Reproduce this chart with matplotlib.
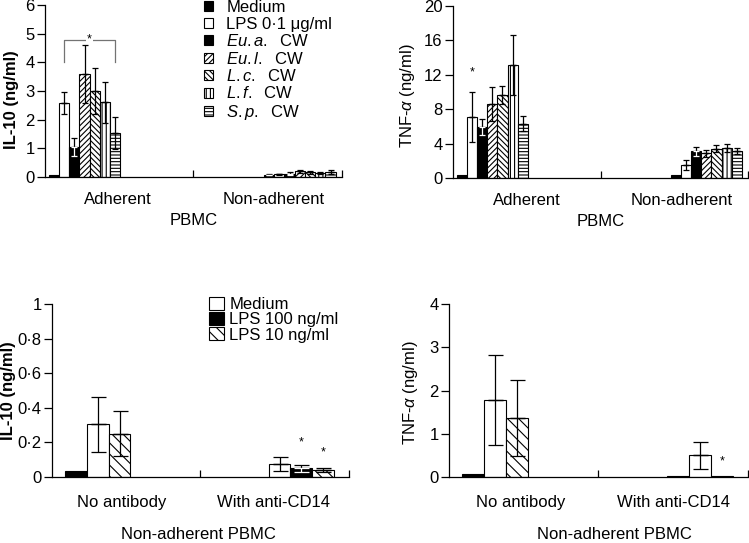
import matplotlib
matplotlib.use('Agg')
import matplotlib.pyplot as plt
import matplotlib.transforms as mtransforms
from matplotlib.patches import Patch
import numpy as np

plt.rcParams['font.family'] = ['Liberation Sans', 'DejaVu Sans']
plt.rcParams['mathtext.fontset'] = 'custom'
plt.rcParams['mathtext.rm'] = 'Liberation Sans'
plt.rcParams['mathtext.it'] = 'Liberation Sans:italic'
plt.rcParams['hatch.linewidth'] = 0.8

FS = 12

# Datos - paineis de cima (PBMC aderentes / nao aderentes)
grupos_pbmc = ['Adherent', 'Non-adherent']
estimulos = ['Medium', 'LPS 0·1 μg/ml', r'$\it{Eu.a.}$  CW', r'$\it{Eu.l.}$  CW',
             r'$\it{L.c.}$  CW', r'$\it{L.f.}$  CW', r'$\it{S.p.}$  CW']
cores_sup = ['black', 'white', 'black', 'white', 'white', 'white', 'white']
hachuras_sup = ['', '', '', '//////', '\\' * 6, '||||', '-----']

il10_ader = [0.08, 2.58, 1.05, 3.59, 3.0, 2.6, 1.53]
il10_ader_err = [0.0, 0.37, 0.32, 1.0, 0.8, 0.7, 0.57]
il10_nader = [0.08, 0.09, 0.12, 0.2, 0.17, 0.15, 0.17]
il10_nader_err = [0.01, 0.03, 0.04, 0.05, 0.05, 0.04, 0.06]

tnf_ader = [0.3, 7.1, 5.9, 8.6, 9.6, 13.1, 6.3]
tnf_ader_err = [0.0, 2.9, 0.95, 2.0, 1.05, 3.5, 0.85]
tnf_nader = [0.4, 1.5, 3.1, 2.85, 3.4, 3.5, 3.15]
tnf_nader_err = [0.0, 0.55, 0.55, 0.4, 0.4, 0.5, 0.35]

# Datos - paineis de baixo (PBMC nao aderentes, anti-CD14)
grupos_cd14 = ['No antibody', 'With anti-CD14']
legenda_cd14 = ['Medium', 'LPS 100 ng/ml', 'LPS 10 ng/ml']

il10_cd14 = [[0.035, 0.305, 0.25], [0.075, 0.05, 0.04]]
il10_cd14_err = [[0.0, 0.16, 0.13], [0.04, 0.022, 0.01]]
il10_cd14_cores = [['black', 'white', 'white'], ['white', 'black', 'white']]
il10_cd14_hach = [['', '', '\\\\\\'], ['', '', '\\\\\\']]

tnf_cd14 = [[0.08, 1.78, 1.37], [0.03, 0.5, 0.03]]
tnf_cd14_err = [[0.0, 1.03, 0.88], [0.0, 0.32, 0.0]]
tnf_cd14_cores = [['black', 'white', 'white'], ['black', 'white', 'white']]
tnf_cd14_hach = [['', '', '\\\\\\'], ['', '', '\\\\\\']]


def fmt_ponto(v, pos=None):
    return ('%g' % v).replace('.', '·')


def barras(ax, x0, largura, valores, erros, cores, hachuras, capsize):
    xs = x0 + largura * (np.arange(len(valores)) + 0.5)
    for x, v, e, c, h in zip(xs, valores, erros, cores, hachuras):
        ax.bar(x, v, largura, color=c, edgecolor='black', hatch=h, linewidth=0.8, zorder=2)
        if e > 0:
            ax.errorbar(x, v, yerr=[[0], [e]], color='black', capsize=capsize,
                        elinewidth=0.9, capthick=0.9, zorder=3)
            # dentro das barras pretas o erro aparece em branco
            cor_baixo = 'white' if c == 'black' else 'black'
            ax.errorbar(x, v, yerr=[[e], [0]], color=cor_baixo, capsize=capsize,
                        elinewidth=0.9, capthick=0.9, zorder=3)
    return xs


def estilo(ax, ymax, passo, ylabel, negrito, lx, ly):
    ax.set_xlim(0, 2)
    ax.set_ylim(0, ymax)
    ax.set_yticks(np.arange(0, ymax + passo / 2, passo))
    ax.yaxis.set_major_formatter(plt.FuncFormatter(fmt_ponto))
    ax.set_xticks([1, 2])
    ax.set_xticklabels([])
    ax.tick_params(axis='x', direction='in', length=5, width=0.9)
    ax.tick_params(axis='y', direction='out', length=5.5, width=0.9, labelsize=FS, pad=2)
    for s in ['top', 'right']:
        ax.spines[s].set_visible(False)
    for s in ['left', 'bottom']:
        ax.spines[s].set_linewidth(0.9)
    ax.set_ylabel(ylabel, fontsize=FS, fontweight='bold' if negrito else 'normal')
    ax.yaxis.set_label_coords(lx, ly)


def rotulos(ax, nomes, xs, y, titulo, xt, yt):
    trans = mtransforms.blended_transform_factory(ax.transData, ax.transAxes)
    for n, x in zip(nomes, xs):
        ax.text(x, y, n, transform=trans, ha='center', va='center', fontsize=FS)
    ax.text(xt, yt, titulo, transform=trans, ha='center', va='center', fontsize=FS)


fig = plt.figure(figsize=(7.49, 5.43), dpi=100)
ax1 = fig.add_axes([0.060, 0.674, 0.3965, 0.3168])
ax2 = fig.add_axes([0.6048, 0.6722, 0.394, 0.3168])
ax3 = fig.add_axes([0.0694, 0.1215, 0.3965, 0.3186])
ax4 = fig.add_axes([0.5995, 0.1215, 0.399, 0.3186])

larg_sup = 0.069
inicio_sup = [0.025, 1.475]
larg_inf = 0.146
inicio_inf = [0.09, 1.46]

# IL-10 aderentes / nao aderentes
xa = barras(ax1, inicio_sup[0], larg_sup, il10_ader, il10_ader_err, cores_sup, hachuras_sup, 2.5)
barras(ax1, inicio_sup[1], larg_sup, il10_nader, il10_nader_err, cores_sup, hachuras_sup, 2.0)
estilo(ax1, 6, 1, 'IL-10 (ng/ml)', True, -0.086, 0.45)
rotulos(ax1, grupos_pbmc, [0.49, 1.54], -0.128, 'PBMC', 1.0, -0.25)
# colchete de significancia
ax1.plot([xa[1], xa[1], xa[6], xa[6]], [4.0, 4.77, 4.77, 4.0], color='0.45', lw=0.9, zorder=1)
ax1.text((xa[1] + xa[6]) / 2, 4.8, '*', ha='center', va='center', fontsize=9,
         bbox=dict(facecolor='white', edgecolor='none', pad=0.5), zorder=2)

handles = [Patch(facecolor=c, edgecolor='black', hatch=h, linewidth=0.8)
           for c, h in zip(cores_sup, hachuras_sup)]
fig.legend(handles, estimulos, loc='upper left', bbox_to_anchor=(0.272, 1.0), frameon=False,
           fontsize=FS, handlelength=0.55, handleheight=0.55, handletextpad=0.8,
           labelspacing=0.09, borderpad=0, borderaxespad=0)

# TNF aderentes / nao aderentes
xt = barras(ax2, inicio_sup[0], larg_sup, tnf_ader, tnf_ader_err, cores_sup, hachuras_sup, 2.5)
barras(ax2, inicio_sup[1], larg_sup, tnf_nader, tnf_nader_err, cores_sup, hachuras_sup, 2.5)
estilo(ax2, 20, 4, r'TNF-$\alpha$ (ng/ml)', False, -0.122, 0.48)
rotulos(ax2, grupos_pbmc, [0.50, 1.55], -0.128, 'PBMC', 1.0, -0.25)
ax2.text(xt[1], 12.3, '*', ha='center', va='center', fontsize=9)

# IL-10 anti-CD14
xs_il = []
for g in range(2):
    xs_il.append(barras(ax3, inicio_inf[g], larg_inf, il10_cd14[g], il10_cd14_err[g],
                        il10_cd14_cores[g], il10_cd14_hach[g], 5.4))
estilo(ax3, 1, 0.2, 'IL-10 (ng/ml)', True, -0.121, 0.50)
rotulos(ax3, grupos_cd14, [0.47, 1.49], -0.145, 'Non-adherent PBMC', 0.985, -0.335)
ax3.text(xs_il[1][1], 0.2, '*', ha='center', va='center', fontsize=9)
ax3.text(xs_il[1][2], 0.14, '*', ha='center', va='center', fontsize=9)
h3 = [Patch(facecolor='white', edgecolor='black', linewidth=0.8),
      Patch(facecolor='black', edgecolor='black', linewidth=0.8),
      Patch(facecolor='white', edgecolor='black', hatch='\\\\\\', linewidth=0.8)]
ax3.legend(h3, legenda_cd14, loc='upper left', bbox_to_anchor=(0.53, 1.04), frameon=False,
           fontsize=FS, handlelength=0.85, handleheight=0.8, handletextpad=0.35,
           labelspacing=0.0, borderpad=0, borderaxespad=0)

# TNF anti-CD14
xs_tnf = []
for g in range(2):
    xs_tnf.append(barras(ax4, inicio_inf[g], larg_inf, tnf_cd14[g], tnf_cd14_err[g],
                         tnf_cd14_cores[g], tnf_cd14_hach[g], 5.4))
estilo(ax4, 4, 1, r'TNF-$\alpha$ (ng/ml)', False, -0.097, 0.49)
rotulos(ax4, grupos_cd14, [0.48, 1.505], -0.145, 'Non-adherent PBMC', 1.11, -0.335)
ax4.text(xs_tnf[1][2], 0.36, '*', ha='center', va='center', fontsize=9)

fig.savefig('out.png', dpi=100)
